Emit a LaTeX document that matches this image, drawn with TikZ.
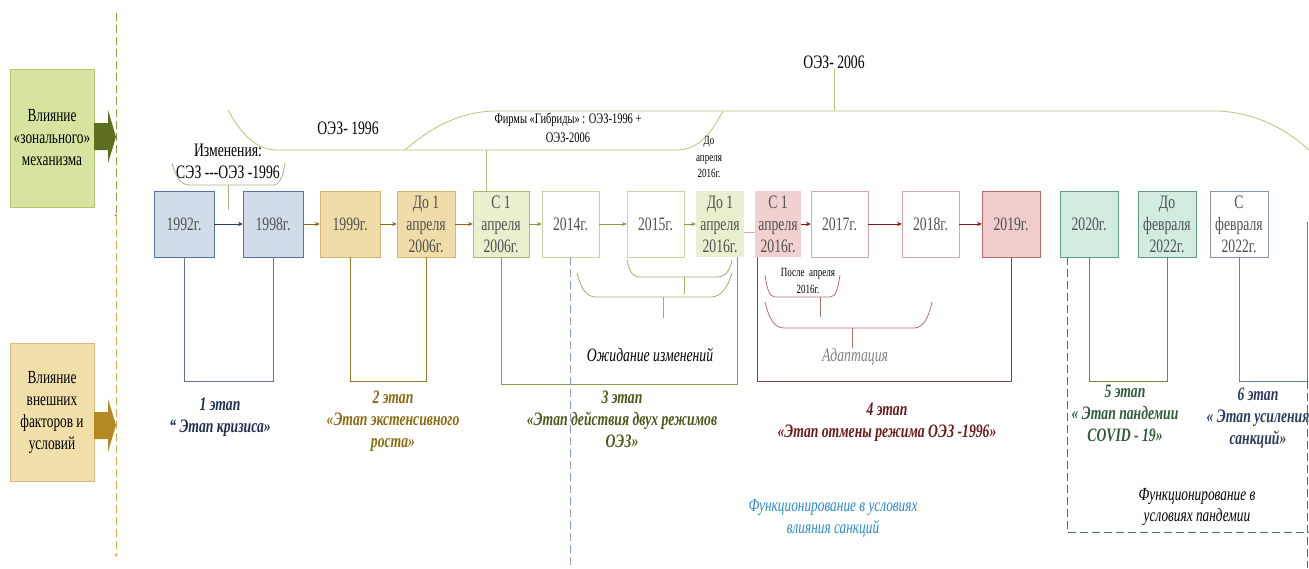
\documentclass[tikz,border=0pt]{standalone}
\usepackage{fontspec}
\setmainfont{Liberation Serif}[FakeStretch=0.72]
\usepackage{tikz}
\usetikzlibrary{positioning,arrows.meta}

\definecolor{zoneFill}{HTML}{D7E4A0}
\definecolor{zoneDraw}{HTML}{B4C86E}
\definecolor{zoneArrow}{HTML}{5E6E20}
\definecolor{extFill}{HTML}{F0DFA8}
\definecolor{extDraw}{HTML}{D4C07C}
\definecolor{extArrow}{HTML}{B38A22}
\definecolor{blueFill}{HTML}{D0DCE8}
\definecolor{blueDraw}{HTML}{5572A0}
\definecolor{goldFill}{HTML}{F0DCA8}
\definecolor{goldDraw}{HTML}{D6B66C}
\definecolor{limeFill}{HTML}{E9F0CF}
\definecolor{limeDraw}{HTML}{A8BC6C}
\definecolor{limeLight}{HTML}{C8D4A4}
\definecolor{pinkFill}{HTML}{F1D1CF}
\definecolor{pinkDraw}{HTML}{D8A8A8}
\definecolor{redFill}{HTML}{F0CCCC}
\definecolor{redDraw}{HTML}{C06868}
\definecolor{tealFill}{HTML}{D2ECDF}
\definecolor{tealDraw}{HTML}{5E9E80}
\definecolor{grayDraw}{HTML}{8595B5}
\definecolor{boxText}{HTML}{505050}
\definecolor{navyLine}{HTML}{2B3F60}
\definecolor{ochreLine}{HTML}{8C6A14}
\definecolor{oliveLine}{HTML}{8A9A40}
\definecolor{darkRed}{HTML}{8B1A1A}
\definecolor{st1Line}{HTML}{5A7499}
\definecolor{st2Line}{HTML}{9C7C2C}
\definecolor{st3Line}{HTML}{8A9A50}
\definecolor{st4Line}{HTML}{7B4545}
\definecolor{st5Line}{HTML}{7A8A30}
\definecolor{st6Line}{HTML}{6A80A0}
\definecolor{st1Text}{HTML}{1F3050}
\definecolor{st2Text}{HTML}{8A6A10}
\definecolor{st3Text}{HTML}{4A5A1A}
\definecolor{st4Text}{HTML}{6A1A1A}
\definecolor{st5Text}{HTML}{2E5A3A}
\definecolor{st6Text}{HTML}{2A3A5A}
\definecolor{topBrace}{HTML}{B5C27A}
\definecolor{chgBrace}{HTML}{A8B088}
\definecolor{waitBrace}{HTML}{A0AC70}
\definecolor{adaptBrace}{HTML}{B07070}
\definecolor{sanctLine}{HTML}{8AA0C0}
\definecolor{pandLine}{HTML}{4A6A90}
\definecolor{sanctText}{HTML}{2A8AD0}
\definecolor{zoneDash}{HTML}{8E9E44}
\definecolor{extDash}{HTML}{D4AC50}

\begin{document}
\begin{tikzpicture}[x=1pt,y=-1pt,line width=0.9pt,>={Stealth[length=5pt,width=4pt]}]
    \tikzset{yearbox/.style={draw,rectangle,minimum width=58pt,minimum height=66pt,
        inner sep=0pt,outer sep=0pt,align=center,text=boxText,font=\fontsize{19}{22}\selectfont}}
    \tikzset{sidebox/.style={draw,rectangle,minimum width=84pt,minimum height=138pt,
        inner sep=0pt,align=center,font=\fontsize{18.5}{22}\selectfont}}
    \tikzset{stagetext/.style={align=center,inner sep=0pt,font=\fontsize{19}{22}\selectfont\bfseries\itshape}}
    \tikzset{note/.style={align=center,inner sep=0pt,font=\fontsize{19}{22}\selectfont}}
    \tikzset{small/.style={align=center,inner sep=0pt,font=\fontsize{12.5}{16.5}\selectfont}}
    \tikzset{brace/.style={line width=0.8pt}}
    \tikzset{stageline/.style={line width=1pt}}
    \tikzset{longdash/.style={dash pattern=on 8pt off 4pt}}
    \useasboundingbox (0,0) rectangle (1309,568);

    % left side
    \node[sidebox,fill=zoneFill,draw=zoneDraw] (zone) at (52,138) {Влияние\\«зонального»\\механизма};
    \node[sidebox,fill=extFill,draw=extDraw] (ext) at (52,412) {Влияние\\внешних\\факторов и\\условий};
    \fill[zoneArrow] (94,123) -- (108,123) -- (108,110) -- (116,137) -- (108,163) -- (108,150) -- (94,150) -- cycle;
    \fill[extArrow] (94,412) -- (108,412) -- (108,399) -- (116,425) -- (108,452) -- (108,439) -- (94,439) -- cycle;
    \coordinate (d0) at (116,13);
    \coordinate (d1) at (116,217);
    \coordinate (d2) at (116,557);
    \draw[longdash,zoneDash,-{Stealth[length=3pt,width=3pt]}] (d0) -- (d1);
    \draw[longdash,extDash,-{Stealth[length=3pt,width=3pt]}] (d1) -- (d2);

    % timeline
    \node[yearbox,fill=blueFill,draw=blueDraw,minimum width=60pt] (y92) at (184,224) {1992г.};
    \node[yearbox,fill=blueFill,draw=blueDraw,minimum width=60pt] (y98) [right=29pt of y92] {1998г.};
    \node[yearbox,fill=goldFill,draw=goldDraw,minimum width=60pt] (y99) [right=17pt of y98] {1999г.};
    \node[yearbox,fill=goldFill,draw=goldDraw] (y06a) [right=17pt of y99] {До 1\\апреля\\2006г.};
    \node[yearbox,fill=limeFill,draw=limeDraw,minimum width=56pt] (y06b) [right=18pt of y06a] {С 1\\апреля\\2006г.};
    \node[yearbox,draw=limeLight,minimum width=57pt] (y14) [right=13pt of y06b] {2014г.};
    \node[yearbox,draw=limeLight,minimum width=57pt] (y15) [right=28pt of y14] {2015г.};
    \node[yearbox,fill=limeFill,draw=none,minimum width=48pt] (y16a) [right=12pt of y15] {До 1\\апреля\\2016г.};
    \node[yearbox,fill=pinkFill,draw=none,minimum width=46pt] (y16b) [right=11pt of y16a] {С 1\\апреля\\2016г.};
    \node[yearbox,draw=pinkDraw,minimum width=57pt] (y17) [right=10pt of y16b] {2017г.};
    \node[yearbox,draw=pinkDraw,minimum width=57pt] (y18) [right=34pt of y17] {2018г.};
    \node[yearbox,fill=redFill,draw=redDraw] (y19) [right=23pt of y18] {2019г.};
    \node[yearbox,fill=tealFill,draw=tealDraw] (y20) [right=20pt of y19] {2020г.};
    \node[yearbox,fill=tealFill,draw=tealDraw] (y22a) [right=20pt of y20] {До\\февраля\\2022г.};
    \node[yearbox,draw=grayDraw] (y22b) [right=14pt of y22a] {С\\февраля\\2022г.};

    \coordinate (lo) at (0,232);
    \draw[->,navyLine] (y92) -- (y98);
    \draw[->,ochreLine] (y98) -- (y99);
    \draw[->,ochreLine] (y99) -- (y06a);
    \draw[->,ochreLine] (y06a) -- (y06b);
    \draw[->,oliveLine] (y06b) -- (y14);
    \draw[->,oliveLine] (y14) -- (y15);
    \draw[->,oliveLine] (y15) -- (y16a);
    \draw[pinkDraw] (y16a.east |- lo) -- (y16b.west |- lo);
    \draw[->,darkRed] (y16b) -- (y17);
    \draw[->,darkRed] (y17) -- (y18);
    \draw[->,darkRed] (y18) -- (y19);

    % top braces
    \node[note] (chg) at (228,161) {Изменения:\\СЭЗ -{}-{}-ОЭЗ -1996};
    \draw[brace,chgBrace] (172,163) .. controls (176,178) and (181,185) .. (190,185) -- (273,185)
        .. controls (280,185) and (283,176) .. (285,163);
    \draw[brace,chgBrace] (228,185) -- (228,210);
    \node[note] (oez96) at (348,128) {ОЭЗ- 1996};
    \draw[brace,topBrace] (228,110) .. controls (240,132) and (255,150) .. (277,150) -- (677,150)
        .. controls (700,150) and (713,130) .. (723,111);
    \draw[brace,topBrace] (405,150) .. controls (430,128) and (460,111) .. (497,111) -- (1219,111)
        .. controls (1255,113) and (1285,128) .. (1309,150);
    \node[note,font=\fontsize{14.5}{19}\selectfont] (hybrid) at (568,128) {Фирмы «Гибриды» : ОЭЗ-1996 +\\ОЭЗ-2006};
    \coordinate (hyb) at (486,150);
    \draw[brace,topBrace] (hyb) -- (hyb |- y06b.north);
    \node[note] (oez06) at (834,62) {ОЭЗ- 2006};
    \coordinate (top06) at (0,111);
    \draw[brace,topBrace] (oez06.south) -- (oez06.south |- top06);
    \node[small] (apr16) at (709,157) {До\\апреля\\2016г.};

    % waiting and adaptation
    \draw[brace,waitBrace] (627,260) .. controls (629,270) and (632,277) .. (640,277) -- (717,277)
        .. controls (726,277) and (730,270) .. (732,260);
    \draw[brace,waitBrace] (684,277) -- (684,294);
    \draw[brace,waitBrace] (577,273) .. controls (581,288) and (586,297) .. (596,297) -- (711,297)
        .. controls (722,297) and (728,286) .. (732,273);
    \draw[brace,waitBrace] (663,297) -- (663,318);
    \node[note,font=\fontsize{19}{22}\selectfont\itshape] (wait) at (650,355) {Ожидание изменений};
    \node[small] (after16) at (808,281) {После~~апреля\\2016г.};
    \draw[brace,adaptBrace] (765,275) .. controls (767,288) and (769,297) .. (775,297) -- (830,297)
        .. controls (836,297) and (838,288) .. (840,275);
    \draw[brace,adaptBrace] (820,297) -- (820,317);
    \draw[brace,adaptBrace] (765,302) .. controls (769,318) and (774,328) .. (784,328) -- (914,328)
        .. controls (924,328) and (929,316) .. (932,302);
    \draw[brace,adaptBrace] (852,328) -- (852,348);
    \node[note,font=\fontsize{19}{22}\selectfont\itshape,text=gray] (adapt) at (855,357) {Адаптация};

    % stages
    \coordinate (base) at (0,381);
    \coordinate (base3) at (0,384);
    \coordinate (bottom) at (0,568);
    \coordinate (r3) at ([xshift=-7pt]y16a.south east);
    \coordinate (l4) at ([xshift=2pt]y16b.south west);
    \coordinate (cut) at (1307,222);
    \draw[stageline,st1Line] (y92.south) |- (base -| y98.south) -- (y98.south);
    \draw[stageline,st2Line] (y99.south) |- (base -| y06a.south) -- (y06a.south);
    \draw[stageline,st3Line] (y06b.south) |- (base3 -| r3) -- (r3);
    \draw[stageline,st4Line] (l4) |- (base -| y19.south) -- (y19.south);
    \draw[stageline,st5Line] (y20.south) |- (base -| y22a.south) -- (y22a.south);
    \draw[stageline,st6Line] (y22b.south) |- (base -| cut) -- (cut);
    \node[stagetext,text=st1Text] (st1) at (220,417) {1 этап\\“ Этап кризиса»};
    \node[stagetext,text=st2Text] (st2) at (393,421) {2 этап\\«Этап экстенсивного\\роста»};
    \node[stagetext,text=st3Text] (st3) at (622,419) {3 этап\\«Этап действия двух режимов\\ОЭЗ»};
    \node[stagetext,text=st4Text] (st4) at (887,422) {4 этап\\«Этап отмены режима ОЭЗ -1996»};
    \node[stagetext,text=st5Text] (st5) at (1125,413) {5 этап\\« Этап пандемии\\COVID - 19»};
    \node[stagetext,text=st6Text] (st6) at (1258,418) {6 этап\\« Этап усиления\\санкций»};

    % sanctions and pandemic
    \draw[longdash,sanctLine] (y14.south) -- (y14.south |- bottom);
    \coordinate (p) at ([xshift=7pt]y20.south west);
    \coordinate (pe) at (1309,532);
    \draw[longdash,pandLine] (p) |- (pe);
    \draw[longdash,pandLine] (base -| cut) -- (bottom -| cut);
    \node[note,font=\fontsize{18.5}{22}\selectfont\itshape,text=sanctText] (fsanc) at (833,518)
        {Функционирование в условиях\\влияния санкций};
    \node[note,font=\fontsize{18.5}{21}\selectfont\itshape] (fpand) at (1197,507)
        {Функционирование в\\условиях пандемии};
\end{tikzpicture}
\end{document}
